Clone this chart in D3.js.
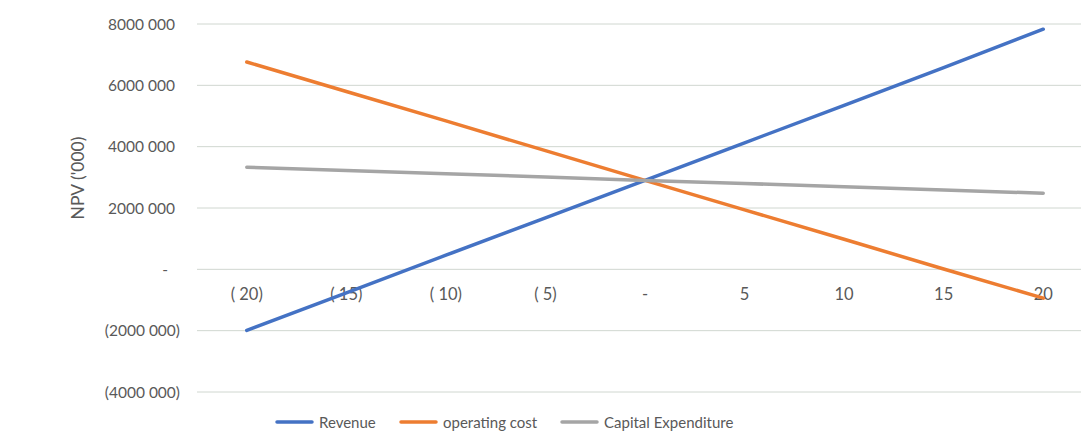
<!DOCTYPE html>
<html><head><meta charset="utf-8">
<script src="https://cdn.jsdelivr.net/npm/d3@7"></script>
<style>body{margin:0;background:#fff;} text{font-family:Lato,"Open Sans",sans-serif;}</style>
</head><body><svg id="c" width="1081" height="439"></svg>
<script>
const categories = [-20,-15,-10,-5,0,5,10,15,20];
const xTickLabels = ["( 20)","( 15)","( 10)","( 5)","-","5","10","15","20"];
const revenue = [-1990000,-765000,460000,1680000,2900000,4125000,5350000,6580000,7830000];
const operatingCost = [6760000,5800000,4840000,3870000,2900000,1940000,980000,10000,-940000];
const capex = [3330000,3220000,3120000,3010000,2900000,2800000,2690000,2590000,2480000];
const yTicks = [-4000000,-2000000,0,2000000,4000000,6000000,8000000];
const yTickLabels = ["(4000 000)","(2000 000)","-","2000 000","4000 000","6000 000","8000 000"];
const seriesNames = ["Revenue","operating cost","Capital Expenditure"];
const colors = ["#4472C4","#ED7D31","#A5A5A5"];

const svg = d3.select("#c");
const x = d3.scaleBand().domain(categories).range([197,1093]);
const y = d3.scaleLinear().domain([-4000000,8000000]).range([392,24]);
const cx = d => x(d)+x.bandwidth()/2;
const txt = "#595959";

svg.append("g").selectAll("line").data(yTicks).join("line")
  .attr("x1",197).attr("x2",1081).attr("y1",d=>y(d)).attr("y2",d=>y(d))
  .attr("stroke","#d0d7d0").attr("stroke-width",1);

svg.append("g").selectAll("text").data(yTicks).join("text")
  .attr("x",(d)=> d<0?180:(d===0?168:175)).attr("y",d=>y(d)+5.5)
  .attr("text-anchor","end").attr("font-size",15.5).attr("fill",txt)
  .text((d,i)=>yTickLabels[i]);

svg.append("text").attr("transform","translate(84,178) rotate(-90)")
  .attr("text-anchor","middle").attr("font-size",17.5).attr("fill",txt).text("NPV ('000)");

svg.append("g").selectAll("text").data(categories).join("text")
  .attr("x",d=>cx(d)).attr("y",y(0)+31).attr("text-anchor","middle")
  .attr("font-size",16.5).attr("fill",txt).text((d,i)=>xTickLabels[i]);

const line = d3.line().x((d,i)=>cx(categories[i])).y(d=>y(d));
[revenue,operatingCost,capex].forEach((s,i)=>{
  svg.append("path").datum(s).attr("d",line).attr("fill","none")
    .attr("stroke",colors[i]).attr("stroke-width",3.5).attr("stroke-linecap","round");
});

const legX = [277,401,562];
seriesNames.forEach((n,i)=>{
  const g = svg.append("g").attr("transform",`translate(${legX[i]},422)`);
  g.append("line").attr("x1",0).attr("x2",35).attr("y1",0).attr("y2",0)
    .attr("stroke",colors[i]).attr("stroke-width",3.5).attr("stroke-linecap","round");
  g.append("text").attr("x",42).attr("y",5.5).attr("font-size",15).attr("fill",txt).text(n);
});
</script></body></html>
